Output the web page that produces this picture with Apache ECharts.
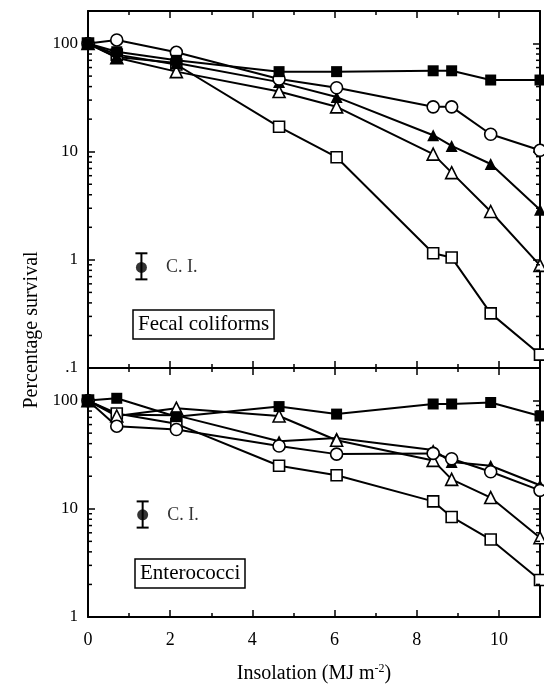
<!DOCTYPE html>
<html>
<head>
<meta charset="utf-8">
<script src="https://cdn.jsdelivr.net/npm/echarts@6/dist/echarts.min.js"></script>
<style>
  html, body { margin: 0; padding: 0; background: #fff; }
  #chart { width: 544px; height: 689px; }
</style>
</head>
<body>
<div id="chart"></div>
<script>
  // insolation (MJ m-2) at each sampling
  var insolation = [0, 0.7, 2.15, 4.65, 6.05, 8.4, 8.85, 9.8, 11]

  // fecal coliforms, percentage survival
  var fcOpenSquare = [100, 79, 64, 17, 8.9, 1.15, 1.05, 0.32, 0.133]
  var fcOpenTriangle = [100, 74, 55, 36, 26, 9.5, 6.4, 2.8, 0.89]
  var fcFilledTriangle = [100, 75, 66, 44, 32, 14.2, 11.3, 7.7, 2.9]
  var fcOpenCircle = [100, 108, 83, 47, 39, 26, 26, 14.5, 10.3]
  var fcFilledSquare = [100, 84, 70, 55, 55, 56, 56, 46, 46]

  // enterococci, percentage survival
  var enFilledTriangle = [100, 74, 73, 42, 45, 35, 27, 25, 16.5]
  var enOpenSquare = [100, 76, 61, 25, 20.4, 11.7, 8.4, 5.2, 2.2]
  var enOpenTriangle = [100, 72, 85, 72, 43, 28, 18.7, 12.7, 5.4]
  var enOpenCircle = [100, 58, 54, 38, 32, 32.5, 29, 22, 14.8]
  var enFilledSquare = [100, 105, 71, 88, 75, 93, 93, 96, 72]

  // confidence interval markers: [x, mid, low, high]
  var ciFecal = [1.3, 0.85, 0.66, 1.15]
  var ciEntero = [1.33, 8.8, 6.7, 11.7]

  // minor log ticks
  var minorFecal = [0.2, 0.3, 0.4, 0.5, 0.6, 0.7, 0.8, 0.9, 2, 3, 4, 5, 6, 7, 8, 9, 20, 30, 40, 50, 60, 70, 80, 90]
  var minorEntero = [2, 3, 4, 5, 6, 7, 8, 9, 20, 30, 40, 50, 60, 70, 80, 90]

  var yTickText = { '0.1': '.1', '1': '1', '10': '10', '100': '100' }

  var FONT = 'Liberation Serif'
  var INK = '#000'

  var myChart = echarts.init(document.getElementById('chart'), null, { renderer: 'canvas' })

  function xAxis (grid, pos, showLabel) {
    return {
      type: 'value',
      gridIndex: grid,
      position: pos,
      min: 0,
      max: 11,
      interval: 2,
      axisLine: { show: true, onZero: false, lineStyle: { color: INK, width: 2 } },
      axisTick: { show: true, inside: true, length: 7, lineStyle: { color: INK, width: 1.5 } },
      minorTick: { show: true, splitNumber: 2, length: 4, lineStyle: { color: INK, width: 1.5 } },
      splitLine: { show: false },
      axisLabel: {
        show: showLabel,
        margin: 14,
        color: INK,
        fontFamily: FONT,
        fontSize: 18,
        formatter: function (v) { return v === 11 ? '' : String(v) }
      }
    }
  }

  function yAxis (grid, pos, min, showLabel) {
    return {
      type: 'log',
      logBase: 10,
      gridIndex: grid,
      position: pos,
      min: min,
      max: 200,
      axisLine: { show: true, onZero: false, lineStyle: { color: INK, width: 2 } },
      axisTick: { show: true, inside: true, length: 7, lineStyle: { color: INK, width: 1.5 } },
      splitLine: { show: false },
      axisLabel: {
        show: showLabel,
        margin: 10,
        color: INK,
        fontFamily: FONT,
        fontSize: 17,
        formatter: function (v) {
          var k = String(Math.round(v * 1000) / 1000)
          return yTickText[k] || ''
        }
      }
    }
  }

  function lineSeries (vals, grid, symbol, filled, size) {
    return {
      type: 'line',
      xAxisIndex: grid * 2,
      yAxisIndex: grid * 2,
      data: insolation.map(function (x, i) { return [x, vals[i]] }),
      symbol: symbol,
      symbolSize: size,
      showAllSymbol: true,
      clip: false,
      lineStyle: { color: INK, width: 2 },
      itemStyle: {
        color: filled ? INK : '#fff',
        borderColor: INK,
        borderWidth: filled ? 0 : 1.6
      },
      emphasis: { disabled: true }
    }
  }

  function minorTickSeries (vals, grid) {
    return {
      type: 'custom',
      xAxisIndex: grid * 2,
      yAxisIndex: grid * 2,
      silent: true,
      z: 5,
      data: vals.map(function (v) { return [0, v] }),
      renderItem: function (params, api) {
        var l = api.coord([0, api.value(1)])
        var r = api.coord([11, api.value(1)])
        return {
          type: 'group',
          children: [
            { type: 'line', shape: { x1: l[0], y1: l[1], x2: l[0] + 4, y2: l[1] }, style: { stroke: INK, lineWidth: 1.5 } },
            { type: 'line', shape: { x1: r[0], y1: r[1], x2: r[0] - 4, y2: r[1] }, style: { stroke: INK, lineWidth: 1.5 } }
          ]
        }
      }
    }
  }

  function ciBarSeries (ci, grid) {
    return {
      type: 'custom',
      xAxisIndex: grid * 2,
      yAxisIndex: grid * 2,
      silent: true,
      data: [[ci[0], ci[2], ci[3]]],
      renderItem: function (params, api) {
        var lo = api.coord([api.value(0), api.value(1)])
        var hi = api.coord([api.value(0), api.value(2)])
        var st = { stroke: INK, lineWidth: 2 }
        return {
          type: 'group',
          children: [
            { type: 'line', shape: { x1: lo[0], y1: lo[1], x2: hi[0], y2: hi[1] }, style: st },
            { type: 'line', shape: { x1: lo[0] - 6, y1: lo[1], x2: lo[0] + 6, y2: lo[1] }, style: st },
            { type: 'line', shape: { x1: hi[0] - 6, y1: hi[1], x2: hi[0] + 6, y2: hi[1] }, style: st }
          ]
        }
      }
    }
  }

  function ciDotSeries (ci, grid) {
    return {
      type: 'scatter',
      xAxisIndex: grid * 2,
      yAxisIndex: grid * 2,
      silent: true,
      data: [[ci[0], ci[1]]],
      symbol: 'circle',
      symbolSize: 11,
      itemStyle: { color: INK },
      label: {
        show: true,
        position: 'right',
        distance: 19,
        formatter: 'C. I.',
        color: INK,
        fontFamily: FONT,
        fontSize: 18
      }
    }
  }

  function boxTitle (text, left, top) {
    return {
      text: text,
      left: left,
      top: top,
      padding: [4, 5],
      borderColor: INK,
      borderWidth: 1.5,
      textStyle: { color: INK, fontFamily: FONT, fontSize: 21, fontWeight: 'normal' }
    }
  }

  var fecal = 0
  var entero = 1

  myChart.setOption({
    animation: false,
    title: [
      boxTitle('Fecal coliforms', 133, 310),
      boxTitle('Enterococci', 135, 559)
    ],
    grid: [
      { left: 88, right: 4, top: 11, height: 357 },
      { left: 88, right: 4, top: 368, height: 249 }
    ],
    xAxis: [
      xAxis(fecal, 'bottom', false),
      xAxis(fecal, 'top', false),
      Object.assign(xAxis(entero, 'bottom', true), {
        name: 'Insolation (MJ m{sup|-2})',
        nameLocation: 'middle',
        nameGap: 46,
        nameTextStyle: {
          color: INK,
          fontFamily: FONT,
          fontSize: 20,
          rich: { sup: { fontFamily: FONT, fontSize: 12, verticalAlign: 'top', padding: [0, 0, 10, 0] } }
        }
      }),
      xAxis(entero, 'top', false)
    ],
    yAxis: [
      yAxis(fecal, 'left', 0.1, true),
      yAxis(fecal, 'right', 0.1, false),
      yAxis(entero, 'left', 1, true),
      yAxis(entero, 'right', 1, false)
    ],
    graphic: [{
      type: 'text',
      x: 32,
      y: 330,
      rotation: Math.PI / 2,
      style: {
        text: 'Percentage survival',
        fill: INK,
        font: '20px "Liberation Serif"',
        textAlign: 'center',
        textVerticalAlign: 'middle'
      }
    }],
    series: [
      lineSeries(fcOpenSquare, fecal, 'rect', false, 11),
      lineSeries(fcOpenTriangle, fecal, 'triangle', false, 12),
      lineSeries(fcFilledTriangle, fecal, 'triangle', true, 12),
      lineSeries(fcOpenCircle, fecal, 'circle', false, 12),
      lineSeries(fcFilledSquare, fecal, 'rect', true, 11),
      lineSeries(enFilledTriangle, entero, 'triangle', true, 12),
      lineSeries(enOpenSquare, entero, 'rect', false, 11),
      lineSeries(enOpenTriangle, entero, 'triangle', false, 12),
      lineSeries(enOpenCircle, entero, 'circle', false, 12),
      lineSeries(enFilledSquare, entero, 'rect', true, 11),
      minorTickSeries(minorFecal, fecal),
      minorTickSeries(minorEntero, entero),
      ciBarSeries(ciFecal, fecal),
      ciDotSeries(ciFecal, fecal),
      ciBarSeries(ciEntero, entero),
      ciDotSeries(ciEntero, entero)
    ]
  })
</script>
</body>
</html>
